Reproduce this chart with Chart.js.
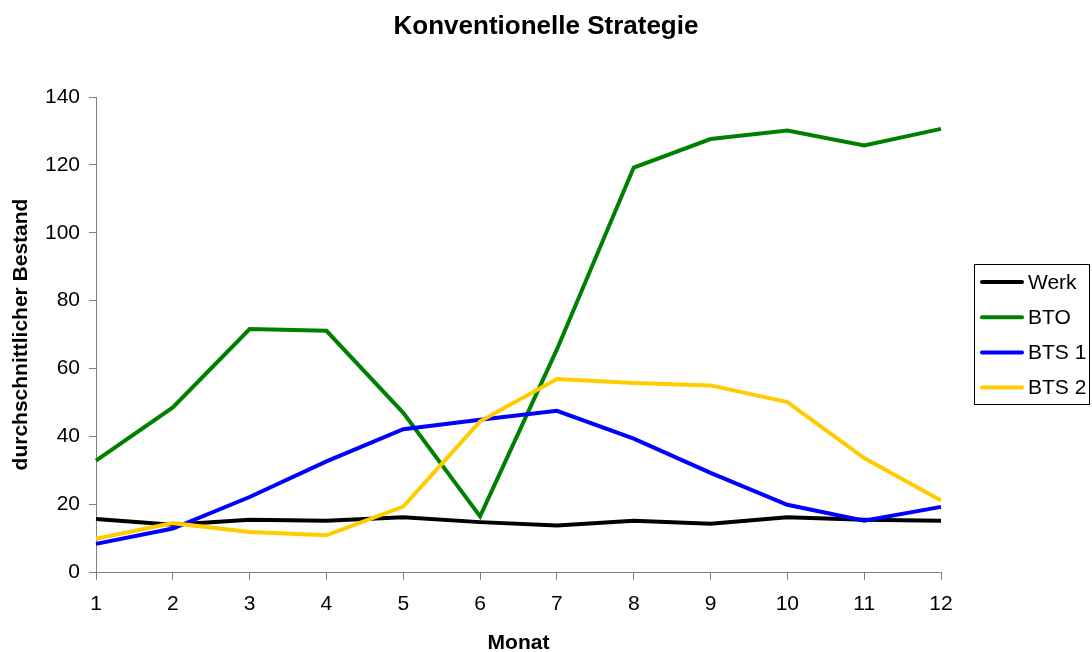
<!DOCTYPE html>
<html>
<head>
<meta charset="utf-8">
<script src="https://cdn.jsdelivr.net/npm/chart.js@4/dist/chart.umd.min.js"></script>
<style>
  html, body { margin: 0; padding: 0; background: #fff; }
  #wrap { width: 1092px; height: 652px; }
</style>
</head>
<body>
<div id="wrap"><canvas id="chart" width="1092" height="652"></canvas></div>
<script>
// Monate
var months = ['1', '2', '3', '4', '5', '6', '7', '8', '9', '10', '11', '12'];

// durchschnittlicher Bestand je Serie
var werk = [15.6, 13.9, 15.4, 15.1, 16.1, 14.7, 13.7, 15.1, 14.2, 16.1, 15.4, 15.1];
var bto  = [32.8, 48.5, 71.6, 71.1, 46.9, 16.4, 65.6, 119.2, 127.6, 130.1, 125.7, 130.6];
var bts1 = [8.3, 12.8, 22.1, 32.6, 42.1, 44.9, 47.5, 39.3, 29.2, 19.8, 15.1, 19.2];
var bts2 = [9.8, 14.4, 11.8, 10.8, 19.3, 44.4, 56.9, 55.7, 55.0, 50.1, 33.6, 21.1];

var seriesNames  = ['Werk', 'BTO', 'BTS 1', 'BTS 2'];
var seriesColors = ['#000000', '#008000', '#0000FF', '#FFCC00'];
var seriesData   = [werk, bto, bts1, bts2];

var yTicks = [0, 20, 40, 60, 80, 100, 120, 140];

var FONT = 'Arial, "Liberation Sans", sans-serif';

// Legend box on the right, drawn on the canvas
var boxLegend = {
    id: 'boxLegend',
    afterDraw: function (chart) {
        var ctx = chart.ctx;
        var x = 974, y = 264, w = 115, h = 140;
        ctx.save();
        ctx.strokeStyle = '#000';
        ctx.lineWidth = 1;
        ctx.strokeRect(x + 0.5, y + 0.5, w, h);
        ctx.font = '21px ' + FONT;
        ctx.textBaseline = 'middle';
        ctx.fillStyle = '#000';
        chart.data.datasets.forEach(function (ds, i) {
            var cy = 282 + i * 35.2;
            ctx.strokeStyle = ds.borderColor;
            ctx.lineWidth = 4;
            ctx.lineCap = 'round';
            ctx.beginPath();
            ctx.moveTo(982, cy);
            ctx.lineTo(1022, cy);
            ctx.stroke();
            ctx.fillText(ds.label, 1028, cy + 1);
        });
        ctx.restore();
    }
};

var datasets = seriesNames.map(function (name, i) {
    return {
        label: name,
        data: seriesData[i],
        borderColor: seriesColors[i],
        backgroundColor: seriesColors[i],
        borderWidth: 4,
        pointRadius: 0,
        tension: 0,
        fill: false,
        order: seriesNames.length - i
    };
});

new Chart(document.getElementById('chart').getContext('2d'), {
    type: 'line',
    data: { labels: months, datasets: datasets },
    plugins: [boxLegend],
    options: {
        responsive: false,
        animation: false,
        layout: { padding: 0 },
        plugins: {
            legend: { display: false },
            tooltip: { enabled: false },
            title: {
                display: true,
                text: 'Konventionelle Strategie',
                color: '#000',
                font: { family: FONT, size: 26, weight: 'bold', lineHeight: 1.2 },
                padding: { top: 11.4, bottom: 54.4 }
            }
        },
        scales: {
            x: {
                type: 'category',
                offset: false,
                grid: { display: true, drawOnChartArea: false, drawTicks: true, tickLength: 8, color: '#808080' },
                border: { display: true, color: '#808080', width: 1 },
                ticks: { color: '#000', font: { family: FONT, size: 21 }, padding: 12, maxRotation: 0 },
                title: {
                    display: true,
                    text: 'Monat',
                    color: '#000',
                    font: { family: FONT, size: 21, weight: 'bold', lineHeight: 0.85 },
                    padding: { top: 10, bottom: 0 }
                },
                afterFit: function (scale) { scale.height = 80; }
            },
            y: {
                min: 0,
                max: 140,
                afterBuildTicks: function (scale) {
                    scale.ticks = yTicks.map(function (v) { return { value: v }; });
                },
                grid: { display: true, drawOnChartArea: false, drawTicks: true, tickLength: 7, color: '#808080' },
                border: { display: true, color: '#808080', width: 1 },
                ticks: { color: '#000', font: { family: FONT, size: 21 }, padding: 9 },
                title: {
                    display: true,
                    text: 'durchschnittlicher Bestand',
                    color: '#000',
                    font: { family: FONT, size: 21, weight: 'bold', lineHeight: 1.2 },
                    padding: { top: 8.4, bottom: 0 }
                },
                afterFit: function (scale) { scale.width = 96; }
            },
            // empty right-hand space reserved for the legend box
            yRight: {
                position: 'right',
                display: true,
                grid: { display: false },
                border: { display: false },
                ticks: { display: false },
                afterFit: function (scale) { scale.width = 151; }
            }
        }
    }
});
</script>
</body>
</html>
